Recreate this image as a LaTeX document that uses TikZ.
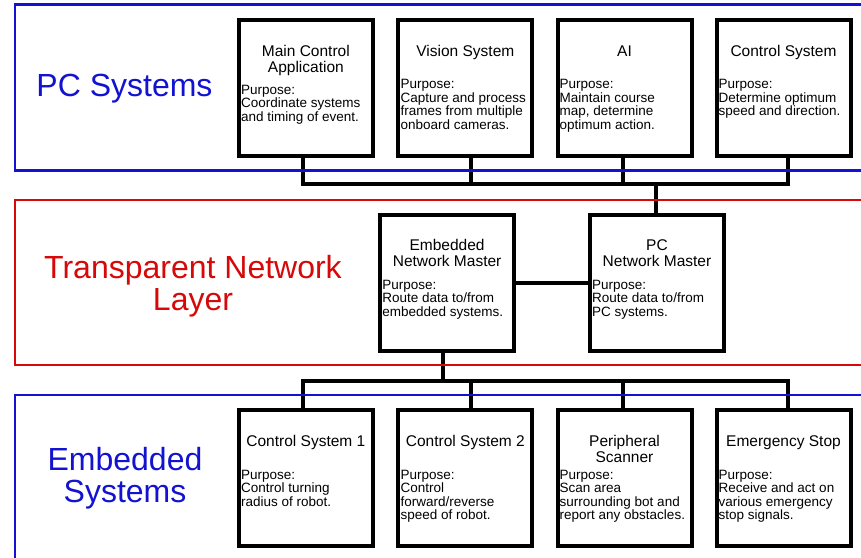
\documentclass[tikz,border=0pt]{standalone}
\usepackage{fontspec}
\setmainfont{Liberation Sans}
\definecolor{layerblue}{RGB}{18,18,208}
\definecolor{layerred}{RGB}{214,8,8}
% text blocks, anchored at the baseline of their first line
\newcommand{\boxtitle}[1]{\parbox[t]{130pt}{\centering\fontsize{15.5}{16}\selectfont #1}}
\newcommand{\boxpurpose}[1]{\parbox[t]{140pt}{\raggedright\fontsize{13.5}{13.6}\selectfont #1}}
\newcommand{\layername}[1]{\parbox[t]{300pt}{\centering\fontsize{32}{32}\selectfont #1}}
\tikzset{
  unit/.style={draw=black, line width=4pt, fill=white, minimum width=134pt,
    minimum height=135.6pt, inner sep=0pt},
  wire/.style={draw=black, line width=4pt, line join=miter},
  ttl/.style={inner sep=0pt, anchor=base},
  pur/.style={inner sep=0pt, anchor=base west, xshift=4pt},
  layerframe/.style={line width=2.8pt},
  lname/.style={inner sep=0pt, anchor=base},
}
\begin{document}
\begin{tikzpicture}[x=1pt,y=-1pt]
\useasboundingbox (0,0) rectangle (861,557);
\fill[white] (0,0) rectangle (861,557);

% ---- PC systems row
\node[unit] (main)   at (305.85,88.2) {};
\node[unit] (vision) at (465.35,88.2) {};
\node[unit] (ai)     at (624.5,88.2) {};
\node[unit] (ctrl)   at (783.5,88.2) {};

\node[ttl] (mainT) at (main.center |- 0,56.3) {\boxtitle{Main Control\\Application}};
\node[pur] (mainP) at (main.west |- 0,94) {\boxpurpose{Purpose:\\Coordinate systems\\and timing of event.}};
\node[ttl] (visionT) at (vision.center |- 0,56.3) {\boxtitle{Vision System}};
\node[pur] (visionP) at (vision.west |- 0,88.5) {\boxpurpose{Purpose:\\Capture and process\\frames from multiple\\onboard cameras.}};
\node[ttl] (aiT) at (ai.center |- 0,56.3) {\boxtitle{AI}};
\node[pur] (aiP) at (ai.west |- 0,88.5) {\boxpurpose{Purpose:\\Maintain course\\map, determine\\optimum action.}};
\node[ttl] (ctrlT) at (ctrl.center |- 0,56.3) {\boxtitle{Control System}};
\node[pur] (ctrlP) at (ctrl.west |- 0,88.5) {\boxpurpose{Purpose:\\Determine optimum\\speed and direction.}};

% ---- network layer
\node[unit] (enm)  at (447.1,283) {};
\node[unit] (pcnm) at (657,283) {};
\node[ttl] (enmT) at (enm.center |- 0,250.5) {\boxtitle{Embedded\\Network Master}};
\node[pur] (enmP) at (enm.west |- 0,289) {\boxpurpose{Purpose:\\Route data to/from\\embedded systems.}};
\node[ttl] (pcnmT) at (pcnm.center |- 0,250.5) {\boxtitle{PC\\Network Master}};
\node[pur] (pcnmP) at (pcnm.west |- 0,289) {\boxpurpose{Purpose:\\Route data to/from\\PC systems.}};

% ---- embedded systems row
\node[unit] (cs1)   at (305.85,478) {};
\node[unit] (cs2)   at (465.35,478) {};
\node[unit] (scan)  at (624.5,478) {};
\node[unit] (estop) at (783.5,478) {};
\node[ttl] (cs1T) at (cs1.center |- 0,446.5) {\boxtitle{Control System 1}};
\node[pur] (cs1P) at (cs1.west |- 0,479) {\boxpurpose{Purpose:\\Control turning\\radius of robot.}};
\node[ttl] (cs2T) at (cs2.center |- 0,446.5) {\boxtitle{Control System 2}};
\node[pur] (cs2P) at (cs2.west |- 0,479) {\boxpurpose{Purpose:\\Control\\forward/reverse\\speed of robot.}};
\node[ttl] (scanT) at (scan.center |- 0,446.5) {\boxtitle{Peripheral\\Scanner}};
\node[pur] (scanP) at (scan.west |- 0,479) {\boxpurpose{Purpose:\\Scan area\\surrounding bot and\\report any obstacles.}};
\node[ttl] (estopT) at (estop.center |- 0,446.5) {\boxtitle{Emergency Stop}};
\node[pur] (estopP) at (estop.west |- 0,479) {\boxpurpose{Purpose:\\Receive and act on\\various emergency\\stop signals.}};

% ---- buses
\coordinate (ta) at (303.3,184);
\coordinate (tb) at (470.5,184);
\coordinate (tc) at (622.5,184);
\coordinate (td) at (788,184);
\coordinate (tm) at (656,184);
\draw[wire] (main.south -| ta) -- (ta) -- (td) -- (ctrl.south -| td);
\draw[wire] (vision.south -| tb) -- (tb);
\draw[wire] (ai.south -| tc) -- (tc);
\draw[wire] (tm) -- (pcnm.north -| tm);
\draw[wire] (enm.east) -- (pcnm.west);

\coordinate (ea) at (303.3,381.3);
\coordinate (eb) at (470.5,381.3);
\coordinate (ec) at (622.5,381.3);
\coordinate (ed) at (788,381.3);
\coordinate (em) at (442.5,381.3);
\draw[wire] (enm.south -| em) -- (em);
\draw[wire] (cs1.north -| ea) -- (ea) -- (ed) -- (estop.north -| ed);
\draw[wire] (cs2.north -| eb) -- (eb);
\draw[wire] (scan.north -| ec) -- (ec);

% ---- layer frames, open to the right and bottom
\begin{scope}
  \clip (0,0) rectangle (861,557);
  \draw[layerframe, layerblue] (15,4.7) rectangle (880,170.7);
  \draw[layerframe, layerred]  (15,200) rectangle (880,365);
  \draw[layerframe, layerblue] (15,395) rectangle (880,580);
\end{scope}

% ---- layer names
\node[lname, text=layerblue] (pcName)  at (124.5,96) {\layername{PC Systems}};
\node[lname, text=layerred]  (netName) at (193,278) {\layername{Transparent Network\\Layer}};
\node[lname, text=layerblue] (embName) at (125,470) {\layername{Embedded\\Systems}};
\end{tikzpicture}
\end{document}
